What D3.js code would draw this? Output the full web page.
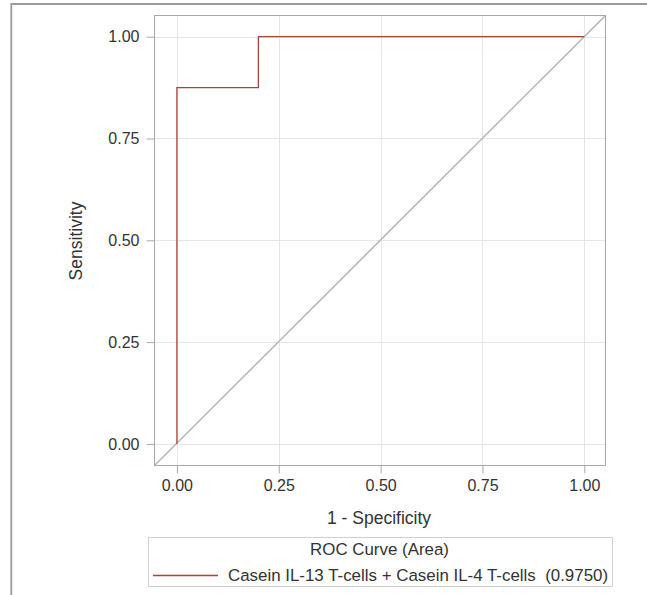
<!DOCTYPE html>
<html><head><meta charset="utf-8">
<script src="https://cdn.jsdelivr.net/npm/d3@7"></script>
<style>body{margin:0;background:#fff;}svg text{font-family:Arial,"Liberation Sans",sans-serif;white-space:pre;}</style>
</head><body>
<svg id="c" width="647" height="595"></svg>
<script>
const fpr = [0, 0, 0.2, 0.2, 1];
const tpr = [0, 0.875, 0.875, 1, 1];
const ticks = [0, 0.25, 0.5, 0.75, 1];
const tickLabels = ["0.00", "0.25", "0.50", "0.75", "1.00"];
const xTitle = "1 - Specificity";
const yTitle = "Sensitivity";
const legendTitle = "ROC Curve (Area)";
const seriesName = "Casein IL-13 T-cells + Casein IL-4 T-cells  (0.9750)";

const svg = d3.select("#c");
// outer border
svg.append("path").attr("d","M11.3,595 V4 H647").attr("fill","none").attr("stroke","#9a9a9a").attr("stroke-width",1.8);

const L=154.5, R=605.5, T=15.5, B=465.5;
const x = d3.scaleLinear().domain([-0.055,1.052]).range([L,R]);
const y = d3.scaleLinear().domain([-0.053,1.052]).range([B,T]);

// grid
const g = svg.append("g");
ticks.forEach(t=>{
  g.append("line").attr("x1",Math.round(x(t))+0.5).attr("x2",Math.round(x(t))+0.5).attr("y1",T).attr("y2",B).attr("stroke","#e6e6e6");
  g.append("line").attr("y1",Math.round(y(t))+0.5).attr("y2",Math.round(y(t))+0.5).attr("x1",L).attr("x2",R).attr("stroke","#e6e6e6");
});

// diagonal
svg.append("line").attr("x1",x(-0.055)).attr("y1",y(-0.053)).attr("x2",x(1.052)).attr("y2",y(1.052)).attr("stroke","#b4b4b4").attr("stroke-width",1.5);

// curve
const pts = fpr.map((f,i)=>[f,tpr[i]]);
svg.append("path").attr("d",d3.line().x(d=>x(d[0])).y(d=>y(d[1]))(pts)).attr("fill","none").attr("stroke","#a8453a").attr("stroke-width",1.3);

// frame
svg.append("rect").attr("x",L).attr("y",T).attr("width",R-L).attr("height",B-T).attr("fill","none").attr("stroke","#a8a8a8");

// axes
const xa = svg.append("g").attr("transform",`translate(0,${B})`).call(d3.axisBottom(x).tickValues(ticks).tickFormat((d,i)=>tickLabels[i]).tickSize(8).tickPadding(6));
const ya = svg.append("g").attr("transform",`translate(${L},0)`).call(d3.axisLeft(y).tickValues(ticks).tickFormat((d,i)=>tickLabels[i]).tickSize(8).tickPadding(7));
[xa,ya].forEach(a=>{a.select(".domain").remove();a.selectAll("line").attr("stroke","#a8a8a8");a.selectAll("text").attr("fill","#333").style("font-size","16px").style("font-family","Arial, 'Liberation Sans', sans-serif");});

svg.append("text").attr("x",379).attr("y",524).attr("text-anchor","middle").attr("fill","#333").style("font-size","17.5px").text(xTitle);
svg.append("text").attr("transform","translate(82,241) rotate(-90)").attr("text-anchor","middle").attr("fill","#333").style("font-size","17.5px").text(yTitle);

// legend
svg.append("rect").attr("x",148.5).attr("y",537.5).attr("width",464).attr("height",49).attr("fill","none").attr("stroke","#d0d0d0");
svg.append("text").attr("x",379.5).attr("y",554.5).attr("text-anchor","middle").attr("fill","#333").style("font-size","16.9px").text(legendTitle);
svg.append("line").attr("x1",153).attr("x2",218).attr("y1",575.5).attr("y2",575.5).attr("stroke","#a8453a").attr("stroke-width",1.3);
svg.append("text").attr("x",228).attr("y",580.7).attr("fill","#333").style("font-size","16.9px").text(seriesName);
</script>
</body></html>
